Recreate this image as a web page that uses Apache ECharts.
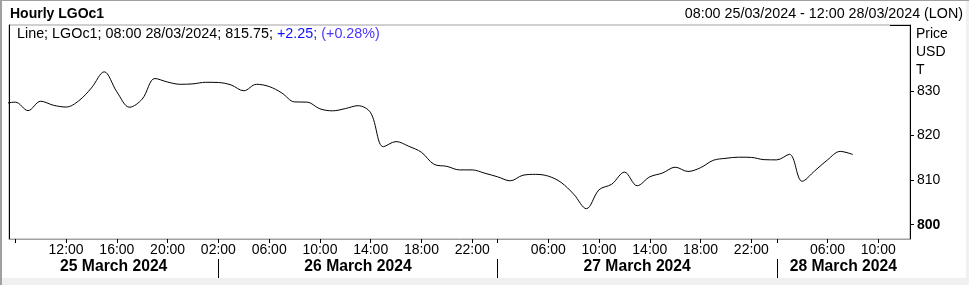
<!DOCTYPE html>
<html>
<head>
<meta charset="utf-8">
<style>
html,body{margin:0;padding:0;background:#fff;}
#chart{width:969px;height:285px;}
</style>
<script src="https://cdn.jsdelivr.net/npm/echarts@6/dist/echarts.min.js"></script>
</head>
<body>
<div id="chart"></div>
<script>
// ---- data ----
const dayLabels = ['25 March 2024', '26 March 2024', '27 March 2024', '28 March 2024'];
const dayFirstHour = [7, 1, 1, 1];
const dayLastHour = [22, 22, 22, 12];
// hourly LGOc1 prices, from 07:00 25/03/2024 to 08:00 28/03/2024 (trading hours only)
const prices = [
  827.1, 827.5, 825.6, 827.7, 826.8, 826.4, 827.8, 830.7, 834.3, 829.8,
  826.35, 828.2, 832.8, 832.0, 831.5, 831.6, 831.95, 831.9, 831.35, 830.05,
  831.5, 831.0, 829.55, 827.55, 827.5, 826.0, 825.55, 826.05, 826.7, 825.1,
  817.5, 818.65, 817.6, 816.25, 813.55, 813.1, 812.3, 812.3, 811.55, 810.75,
  809.85, 811.1, 811.3, 810.9, 809.5, 806.85, 803.6, 807.85, 809.1, 811.8,
  808.75, 810.75, 811.6, 812.9, 811.95, 812.8, 814.45, 814.9, 815.15, 815.1,
  814.6, 814.55, 815.8, 809.75, 812.1, 814.55, 816.45, 815.75
];
const tickHours = [[8, 12, 16, 20], [2, 6, 10, 14, 18, 22], [2, 6, 10, 14, 18, 22], [2, 6, 10]];
const hiddenTickLabels = [[0, 8], [2, 2], [3, 2]];
const separatorHour = 2;
const yTicks = [800, 810, 820, 830];
const boldTicks = [800];
const yMin = 796.8, yMax = 844.8;
const headerTitle = 'Hourly LGOc1';
const rangeText = '08:00 25/03/2024 - 12:00 28/03/2024 (LON)';
const lastTimeText = '08:00 28/03/2024';
const changeValue = 2.25;
const changePct = 0.28;

// ---- build slots ----
const slots = [];
dayLabels.forEach((d, di) => {
  for (let h = dayFirstHour[di]; h <= dayLastHour[di]; h++) slots.push({ day: di, hour: h });
});
const slotIndex = (d, h) => slots.findIndex(s => s.day === d && s.hour === h);
const pad2 = n => (n < 10 ? '0' : '') + n;
const xMin = 0.5, xMax = slots.length - 0.5;

const tickValues = [];
tickHours.forEach((hs, d) => hs.forEach(h => tickValues.push(slotIndex(d, h))));
const hiddenIdx = hiddenTickLabels.map(p => slotIndex(p[0], p[1]));
const labelValues = tickValues.filter(v => hiddenIdx.indexOf(v) < 0);

const separators = [];
for (let d = 1; d < dayLabels.length; d++) separators.push(slotIndex(d, separatorHour));
const bounds = [xMin].concat(separators, [xMax]);
const dayCenters = dayLabels.map((_, i) => (bounds[i] + bounds[i + 1]) / 2);

const lineData = prices.map((v, i) => [i, v]);
const lastValue = prices[prices.length - 1];

const FONT = "'Liberation Sans', Arial, sans-serif";

const chart = echarts.init(document.getElementById('chart'), null, { renderer: 'canvas' });
chart.setOption({
  animation: false,
  backgroundColor: '#ffffff',
  textStyle: { fontFamily: FONT },
  title: [
    { text: headerTitle, left: 10, top: 7, padding: 0,
      textStyle: { fontSize: 14, fontWeight: 'bold', color: '#000', fontFamily: FONT } },
    { text: rangeText, right: 6, top: 7, padding: 0,
      textStyle: { fontSize: 14.3, fontWeight: 'normal', color: '#000', fontFamily: FONT } },
    { text: '{k|Line; LGOc1; ' + lastTimeText + '; ' + lastValue.toFixed(2) + '; }{c|+' + changeValue.toFixed(2) + '; }{p|(+' + changePct.toFixed(2) + '%)}',
      left: 17, top: 27, padding: 0,
      textStyle: { fontSize: 14.35, fontWeight: 'normal', color: '#000', fontFamily: FONT,
        rich: {
          k: { fontSize: 14.35, color: '#000', fontFamily: FONT },
          c: { fontSize: 14.35, color: '#1010ff', fontFamily: FONT },
          p: { fontSize: 14.35, color: '#4a36ff', fontFamily: FONT }
        } } }
  ],
  grid: { left: 9, top: 25, width: 901, height: 214, show: true, borderColor: '#a0a0a0', borderWidth: 1, backgroundColor: '#fff' },
  xAxis: [
    {
      type: 'value', min: xMin, max: xMax, position: 'bottom',
      splitLine: { show: false },
      axisLine: { show: true, lineStyle: { color: '#a0a0a0', width: 1 } },
      axisTick: { show: true, length: 4, inside: false, customValues: tickValues, lineStyle: { color: '#000', width: 1 } },
      axisLabel: {
        show: true, customValues: labelValues, margin: 4, fontSize: 14, color: '#000', fontFamily: FONT,
        formatter: v => pad2(slots[Math.round(v)].hour) + ':00'
      }
    },
    {
      type: 'value', min: xMin, max: xMax, position: 'bottom', offset: 20,
      splitLine: { show: false },
      axisLine: { show: false },
      axisTick: { show: true, length: 19, customValues: separators, lineStyle: { color: '#000', width: 1 } },
      axisLabel: {
        show: true, customValues: dayCenters, margin: 0, fontSize: 15.7, fontWeight: 'bold', color: '#000', fontFamily: FONT,
        formatter: v => dayLabels[dayCenters.findIndex(c => Math.abs(c - v) < 1e-6)]
      }
    }
  ],
  yAxis: [
    {
      type: 'value', position: 'right', min: yMin, max: yMax,
      splitLine: { show: false },
      axisLine: { show: true, lineStyle: { color: '#000', width: 1 } },
      axisTick: { show: true, length: 4, inside: false, customValues: yTicks, lineStyle: { color: '#000' } },
      axisLabel: {
        show: true, customValues: yTicks, margin: 7, fontSize: 14, color: '#000', fontFamily: FONT,
        formatter: v => boldTicks.indexOf(v) >= 0 ? '{b|' + v + '}' : String(v),
        rich: { b: { fontSize: 14, fontWeight: 'bold', color: '#000', fontFamily: FONT } }
      },
      name: 'Price\nUSD\nT', nameLocation: 'end', nameGap: 0,
      nameTextStyle: { align: 'left', verticalAlign: 'top', fontSize: 14, lineHeight: 18, color: '#000', fontFamily: FONT, padding: [0, 0, 0, 6] }
    },
    {
      type: 'value', position: 'left', min: yMin, max: yMax,
      splitLine: { show: false },
      axisLine: { show: true, lineStyle: { color: '#000', width: 1 } },
      axisTick: { show: false }, axisLabel: { show: false }
    }
  ],
  series: [{
    type: 'line', xAxisIndex: 0, yAxisIndex: 0, data: lineData,
    smooth: 0.35, symbol: 'none', clip: true,
    lineStyle: { color: '#000', width: 1 },
    markLine: {
      silent: true, symbol: 'none',
      lineStyle: { opacity: 0 },
      data: [{ yAxis: lastValue }],
      label: {
        show: true, position: 'end', distance: 0,
        formatter: () => lastValue.toFixed(2),
        backgroundColor: '#000', color: '#fff', fontWeight: 'bold', fontSize: 14, fontFamily: FONT,
        padding: [1, 8, 0, 2]
      }
    }
  }],
  graphic: [
    { type: 'rect', shape: { x: 0, y: 278, width: 969, height: 7 }, style: { fill: '#f0f0f0' }, silent: true },
    { type: 'rect', shape: { x: 966, y: 0, width: 3, height: 285 }, style: { fill: '#f0f0f0' }, silent: true },
    { type: 'rect', shape: { x: 0, y: 0, width: 2, height: 285 }, style: { fill: '#a0a0a0' }, silent: true },
    { type: 'rect', shape: { x: 0, y: 0, width: 969, height: 1 }, style: { fill: '#a0a0a0' }, silent: true },
    { type: 'line', shape: { x1: 9, y1: 239.5, x2: 30, y2: 239.5 }, style: { stroke: '#000', lineWidth: 1 }, silent: true },
    { type: 'line', shape: { x1: 890, y1: 239.5, x2: 910, y2: 239.5 }, style: { stroke: '#000', lineWidth: 1 }, silent: true },
    { type: 'line', shape: { x1: 890, y1: 25.5, x2: 910, y2: 25.5 }, style: { stroke: '#000', lineWidth: 1 }, silent: true }
  ]
});
</script>
</body>
</html>
